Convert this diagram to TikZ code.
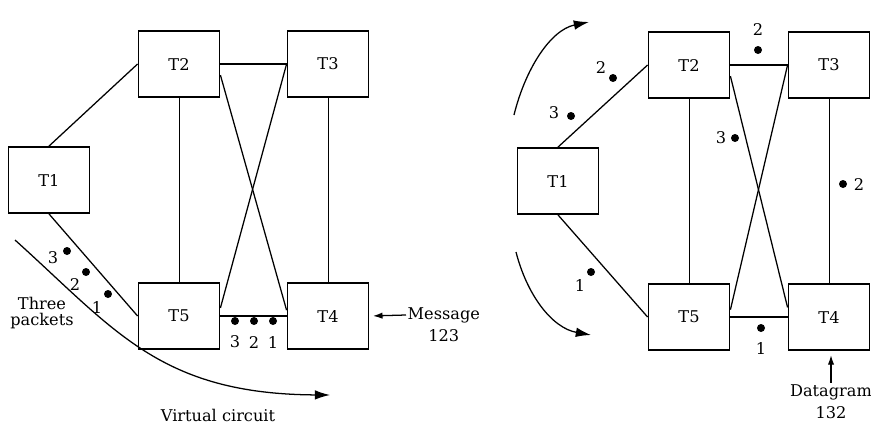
\documentclass[tikz,border=0pt]{standalone}
\usepackage{fontspec}
\setmainfont{DejaVu Serif}
\usepackage{tikz}
\usetikzlibrary{arrows.meta,positioning}
\tikzset{
  term/.style={rectangle, draw, line width=1.3pt, minimum width=20.25mm,
               minimum height=16.5mm, inner sep=0pt},
  link/.style={line width=0.9pt},
  rung/.style={line width=0.6pt},
  pkt/.style={circle, fill, inner sep=0pt, minimum size=2mm},
  num/.style={inner sep=1pt},
  flow/.style={-{Latex[length=3.8mm, width=2.4mm]}, line width=0.9pt},
  feed/.style={-{Latex[length=2.4mm, width=1.6mm]}, line width=0.9pt},
}
\begin{document}
\begin{tikzpicture}[x=0.25mm, y=-0.25mm, font=\fontsize{11.5}{11.5}\selectfont]
  \fill[white] (0,0) rectangle (871,429);
  \useasboundingbox (0,0) rectangle (871,429);

  % virtual circuit
  \node[term] (vT1) at (49,180) {T1};
  \node[term] (vT2) at (179,64) {T2};
  \node[term] (vT3) at (328,64) {T3};
  \node[term] (vT5) at (179,316) {T5};
  \node[term] (vT4) at (328,316) {T4};
  \foreach \a/\b in {vT1.north/vT2.west, vT2.east/vT3.west, vT5.east/vT4.west,
                     vT1.south/vT5.west, vT2.-15/vT4.172, vT5.11/vT3.west}
    \draw[link] (\a) -- (\b);
  \foreach \a/\b in {vT2.south/vT5.north, vT3.south/vT4.north}
    \draw[rung] (\a) -- (\b);
  \foreach \i/\px/\py/\lx/\ly/\t in {1/67/251/53/258/3, 2/86/272/75/284/2, 3/108/294/97/307/1,
                                     4/235/321/235/342/3, 5/254/321/254/342/2, 6/273/321/273/342/1} {
    \node[pkt] (vd\i) at (\px,\py) {};
    \node[num] (vn\i) at (\lx,\ly) {\t};
  }
  \node[align=center] (three) at (42,313) {Three\\packets};
  \coordinate (vcs) at (15,240);
  \coordinate (vce) at (330,395);
  \draw[flow] (vcs) .. controls (115,330) and (160,394) .. (vce);
  \node (vcirc) at (218,415) {Virtual circuit};
  \node[num, anchor=west] (msg) at (406,315) {Message};
  \node[num, below=2.5pt of msg] (msgnum) {123};
  \draw[feed, shorten >=2.5pt] (msg.west) -- (vT4.east);

  % datagram
  \node[term] (dT1) at (558,181) {T1};
  \node[term] (dT2) at (689,65) {T2};
  \node[term] (dT3) at (829,65) {T3};
  \node[term] (dT5) at (689,317) {T5};
  \node[term] (dT4) at (829,317) {T4};
  \foreach \a/\b in {dT1.north/dT2.west, dT2.east/dT3.west, dT5.east/dT4.west,
                     dT1.south/dT5.west, dT2.-15/dT4.167, dT5.10/dT3.west}
    \draw[link] (\a) -- (\b);
  \foreach \a/\b in {dT2.south/dT5.north, dT3.south/dT4.north}
    \draw[rung] (\a) -- (\b);
  \foreach \i/\px/\py/\lx/\ly/\t in {1/758/50/758/29/2, 2/613/78/601/67/2, 3/571/116/554/113/3,
                                     4/735/138/721/138/3, 5/843/184/859/184/2,
                                     6/591/272/580/285/1, 7/761/328/761/348/1} {
    \node[pkt] (dd\i) at (\px,\py) {};
    \node[num] (dn\i) at (\lx,\ly) {\t};
  }
  \coordinate (ua) at (514,115);
  \coordinate (ub) at (589,22);
  \coordinate (la) at (516,252);
  \coordinate (lb) at (591,335);
  \draw[flow] (ua) .. controls (525,70) and (550,30) .. (ub);
  \draw[flow] (la) .. controls (527,295) and (552,328) .. (lb);
  \node[num] (dg) at (831,392) {Datagram};
  \node[num, below=2.5pt of dg] (dgnum) {132};
  \draw[feed, shorten >=3pt] (dg.north) -- (dg.north |- dT4.south);
\end{tikzpicture}
\end{document}
